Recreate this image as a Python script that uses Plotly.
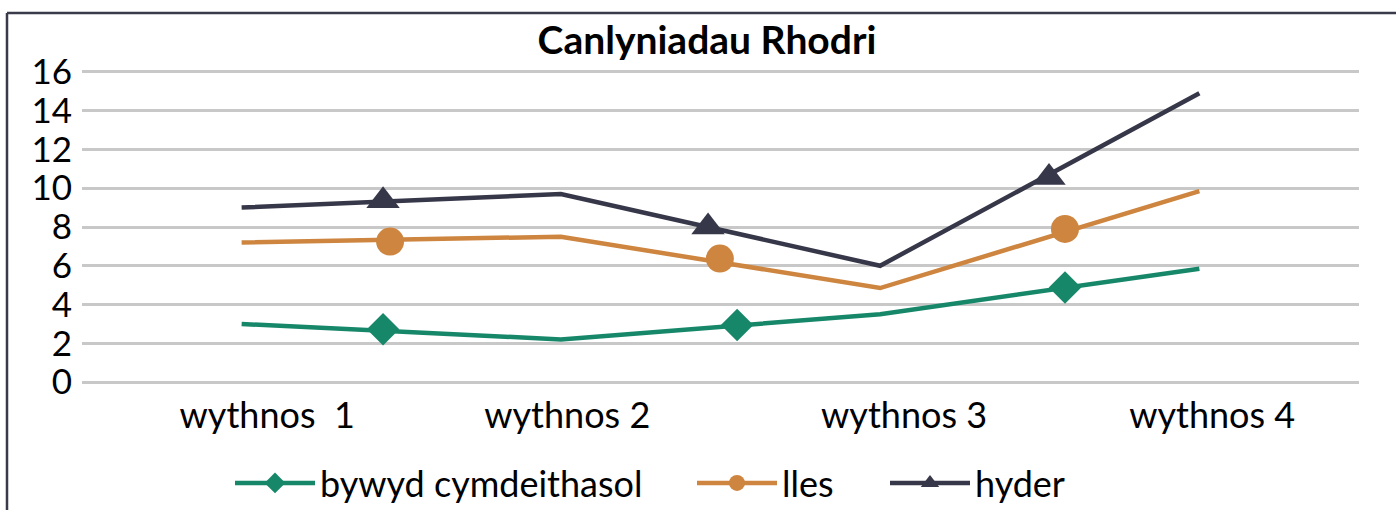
import plotly.graph_objects as go

# ---- data ----
week_labels = ["wythnos\u00a0\u00a01", "wythnos 2", "wythnos 3", "wythnos 4"]
week_label_pos = [1.08, 2.02, 3.075, 4.04]

line_x = [1, 2, 3, 4]
social = [3.0, 2.2, 3.5, 5.85]
wellbeing = [7.2, 7.5, 4.85, 9.85]
confidence = [9.0, 9.7, 6.0, 14.9]

social_mx = [1.443, 2.552, 3.579]
social_my = [2.73, 2.95, 4.88]
wellbeing_mx = [1.465, 2.498, 3.579]
wellbeing_my = [7.25, 6.37, 7.9]
confidence_mx = [1.443, 2.461, 3.529]
confidence_my = [9.35, 8.0, 10.55]

y_ticks = [0, 2, 4, 6, 8, 10, 12, 14, 16]

names = ["bywyd cymdeithasol", "lles", "hyder"]
colors = ["#17876A", "#CD853F", "#37374A"]
symbols = ["diamond", "circle", "triangle-up"]
msizes = [25, 28, 29]

W, H = 1396, 510
L, R, T, B = 82, 37, 72, 128
FONT = "Lato"
legend_ids = ["legend", "legend2", "legend3"]
legend_left_px = [230, 692, 885]

fig = go.Figure()
series = [(social, social_mx, social_my), (wellbeing, wellbeing_mx, wellbeing_my),
          (confidence, confidence_mx, confidence_my)]
for i, (vals, mx, my) in enumerate(series):
    fig.add_trace(go.Scatter(x=line_x, y=vals, mode="lines", name=names[i],
                             legendgroup=names[i], showlegend=False,
                             line=dict(color=colors[i], width=4.5)))
    fig.add_trace(go.Scatter(x=mx, y=my, mode="markers", name=names[i],
                             legendgroup=names[i], showlegend=False,
                             marker=dict(color=colors[i], symbol=symbols[i], size=msizes[i])))
    # legend entry: line + marker
    fig.add_trace(go.Scatter(x=[None], y=[None], mode="lines+markers", name=names[i],
                             legendgroup=names[i], showlegend=True, legend=legend_ids[i],
                             line=dict(color=colors[i], width=4.5),
                             marker=dict(color=colors[i], symbol=symbols[i], size=msizes[i])))

ypad = 0.15
PX_PER_UNIT = 19.4
t_eff = T - ypad * PX_PER_UNIT
b_eff = B - ypad * PX_PER_UNIT
pw = W - L - R
ph = H - t_eff - b_eff
def px_x(p):
    return (p - L) / pw
def px_y(p):
    return (H - b_eff - p) / ph

frame_col = "#3A3B4A"
fig.add_shape(type="line", xref="paper", yref="paper", x0=px_x(7), x1=px_x(7),
              y0=px_y(13), y1=px_y(515), line=dict(color=frame_col, width=2.5))
fig.add_shape(type="line", xref="paper", yref="paper", x0=px_x(7), x1=px_x(1400),
              y0=px_y(13), y1=px_y(13), line=dict(color=frame_col, width=2.5))

legend_common = dict(orientation="h", xref="container", yref="container",
                     xanchor="left", y=1 - 483 / H, yanchor="middle",
                     font=dict(size=36), itemwidth=80, bgcolor="rgba(0,0,0,0)")

fig.update_layout(
    width=W, height=H,
    margin=dict(l=L, r=R, t=t_eff, b=b_eff),
    paper_bgcolor="white", plot_bgcolor="white",
    font=dict(family=FONT, color="#000000", size=36),
    title=dict(text="<b>Canlyniadau Rhodri</b>", x=707 / W, xanchor="center",
               y=1 - 40 / H, yanchor="middle",
               font=dict(family=FONT, size=39, color="#000000")),
    xaxis=dict(range=[0.5, 4.5], tickvals=week_label_pos, ticktext=week_labels,
               showgrid=False, zeroline=False, showline=False, ticks="",
               tickfont=dict(size=36), ticklabelstandoff=6),
    yaxis=dict(range=[-ypad, 16 + ypad], tickvals=y_ticks,
               showgrid=True, gridcolor="#C8C8C8", gridwidth=2.5,
               zeroline=False, showline=False, ticks="", tickfont=dict(size=35),
               ticklabelstandoff=9),
    legend=dict(x=legend_left_px[0] / W, **legend_common),
    legend2=dict(x=legend_left_px[1] / W, **legend_common),
    legend3=dict(x=legend_left_px[2] / W, **legend_common),
    showlegend=True,
)

fig.write_html("out.html", config={"displayModeBar": False},
               post_script="document.body.style.margin='0';document.body.style.overflow='hidden';")
